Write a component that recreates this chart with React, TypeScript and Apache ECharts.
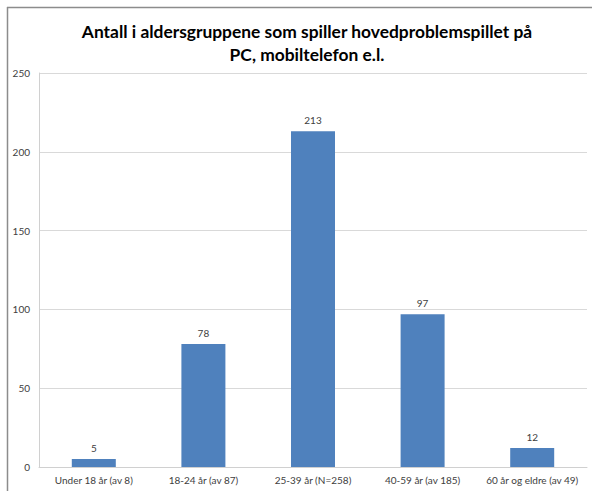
import React, { useEffect, useRef } from "react";
import * as echarts from "echarts";

const titleLines = ["Antall i aldersgruppene som spiller hovedproblemspillet på", "PC, mobiltelefon e.l."];
const categories = ["Under 18 år (av 8)", "18-24 år (av 87)", "25-39 år (N=258)", "40-59 år (av 185)", "60 år og eldre (av 49)"];
const values = [5, 78, 213, 97, 12];
const yMin = 0;
const yMax = 250;
const yInterval = 50;

export default function App() {
  const ref = useRef<HTMLDivElement>(null);
  useEffect(() => {
    if (!ref.current) return;
    const chart = echarts.init(ref.current, null, { renderer: "svg" });
    chart.setOption({
      animation: false,
      backgroundColor: "#ffffff",
      title: {
        text: titleLines.join("\n"),
        left: 302,
        textAlign: "center",
        top: 15,
        textStyle: {
          fontFamily: "Lato, 'Open Sans', sans-serif",
          fontWeight: "bold",
          fontSize: 17.4,
          lineHeight: 23,
          color: "#000000",
        },
      },
      graphic: [
        { type: "line", shape: { x1: 7, y1: 7.5, x2: 592, y2: 7.5 }, style: { stroke: "#8c8c8c", lineWidth: 1.5 } },
        { type: "line", shape: { x1: 7.5, y1: 7, x2: 7.5, y2: 491 }, style: { stroke: "#8c8c8c", lineWidth: 1.5 } },
      ],
      grid: { left: 39, right: 5, top: 73, bottom: 24, containLabel: false },
      xAxis: {
        type: "category",
        data: categories,
        axisLine: { show: true, lineStyle: { color: "#d0d0d0" } },
        axisTick: { show: false },
        axisLabel: { color: "#404040", fontSize: 10, fontFamily: "Lato, sans-serif", margin: 8, interval: 0 },
      },
      yAxis: {
        type: "value",
        min: yMin,
        max: yMax,
        interval: yInterval,
        axisLine: { show: true, lineStyle: { color: "#d0d0d0" } },
        axisTick: { show: false },
        splitLine: { show: true, lineStyle: { color: "#d9d9d9" } },
        axisLabel: { color: "#404040", fontSize: 10, fontFamily: "Lato, sans-serif", margin: 9 },
      },
      series: [
        {
          type: "bar",
          data: values,
          barWidth: 44,
          itemStyle: { color: "#4f81bd" },
          label: {
            show: true,
            position: "top",
            distance: 6,
            color: "#404040",
            fontSize: 10,
            fontFamily: "Lato, sans-serif",
          },
        },
      ],
    });
    return () => chart.dispose();
  }, []);
  return <div ref={ref} style={{ position: "fixed", left: 0, top: 0, width: 592, height: 491 }} />;
}
